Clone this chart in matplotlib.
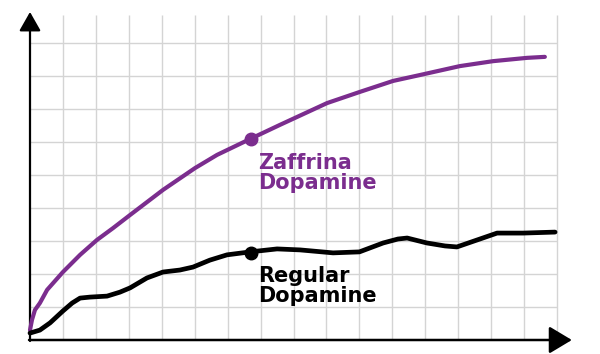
import numpy as np
import matplotlib.pyplot as plt

# curve values, in grid units (x: 16 cells, y: ~10 cells)
zaff_x = [0.0, 0.06, 0.15, 0.30, 0.52, 1.0, 1.52, 2.03, 2.52, 3.04, 4.04, 5.01, 5.68, 6.68,
          7.59, 9.02, 10.02, 11.02, 11.84, 13.05, 14.06, 15.09, 15.63]
zaff_y = [0.30, 0.61, 0.91, 1.12, 1.52, 2.06, 2.58, 3.03, 3.39, 3.79, 4.55, 5.21, 5.61, 6.09,
          6.52, 7.18, 7.52, 7.85, 8.03, 8.30, 8.45, 8.55, 8.58]

reg_x = [0.0, 0.30, 0.61, 1.0, 1.28, 1.52, 1.82, 2.34, 2.73, 3.04, 3.55, 4.04, 4.55, 4.95, 5.46,
         5.98, 6.68, 7.5, 8.2, 9.2, 10.0, 10.72, 11.17, 11.45, 12.05, 12.6, 12.96, 13.57, 14.18,
         14.97, 15.94]
reg_y = [0.21, 0.30, 0.52, 0.88, 1.12, 1.27, 1.30, 1.33, 1.45, 1.58, 1.88, 2.06, 2.12, 2.21, 2.42,
         2.58, 2.67, 2.76, 2.73, 2.64, 2.67, 2.94, 3.06, 3.09, 2.94, 2.85, 2.82, 3.03, 3.24,
         3.24, 3.27]

marker_x = 6.71
zaff_marker_y = 6.09
reg_marker_y = 2.64

purple = '#7B2D8E'

fig = plt.figure(figsize=(6, 3.54), dpi=100)
ax = fig.add_axes([0, 0, 1, 1])
ax.set_xlim(-30 / 32.94, 570 / 32.94)
ax.set_ylim(-14 / 33, 340 / 33)
ax.axis('off')

# grid
grid_top = 9.85
ax.vlines(np.arange(1, 17), 0, grid_top, color='#d4d4d4', lw=1.0, zorder=1)
ax.hlines(np.arange(1, 10), 0, 16, color='#d4d4d4', lw=1.0, zorder=1)

# axes with arrows
ax.annotate('', xy=(0, 9.94), xytext=(0, -0.03),
            arrowprops=dict(arrowstyle='-|>,head_length=0.58,head_width=0.33',
                            lw=1.6, color='black', mutation_scale=20,
                            shrinkA=0, shrinkB=0), zorder=3)
ax.annotate('', xy=(16.45, 0), xytext=(-0.03, 0),
            arrowprops=dict(arrowstyle='-|>,head_length=0.7,head_width=0.42',
                            lw=1.8, color='black', mutation_scale=20,
                            shrinkA=0, shrinkB=0), zorder=3)

# curves
ax.plot(zaff_x, zaff_y, color=purple, lw=3.0, solid_capstyle='round',
        solid_joinstyle='round', zorder=4)
ax.plot(reg_x, reg_y, color='black', lw=3.4, solid_capstyle='round',
        solid_joinstyle='round', zorder=4)
ax.plot([marker_x], [zaff_marker_y], 'o', color=purple, ms=9, zorder=5)
ax.plot([marker_x], [reg_marker_y], 'o', color='black', ms=9, zorder=5)

# labels
ax.text(6.92, 5.68, 'Zaffrina\nDopamine', color=purple, fontsize=15,
        fontweight='bold', family='DejaVu Sans', va='top', ha='left',
        linespacing=1.02, zorder=6)
ax.text(6.92, 2.24, 'Regular\nDopamine', color='black', fontsize=15,
        fontweight='bold', family='DejaVu Sans', va='top', ha='left',
        linespacing=1.02, zorder=6)

plt.savefig('out.png', dpi=100)
